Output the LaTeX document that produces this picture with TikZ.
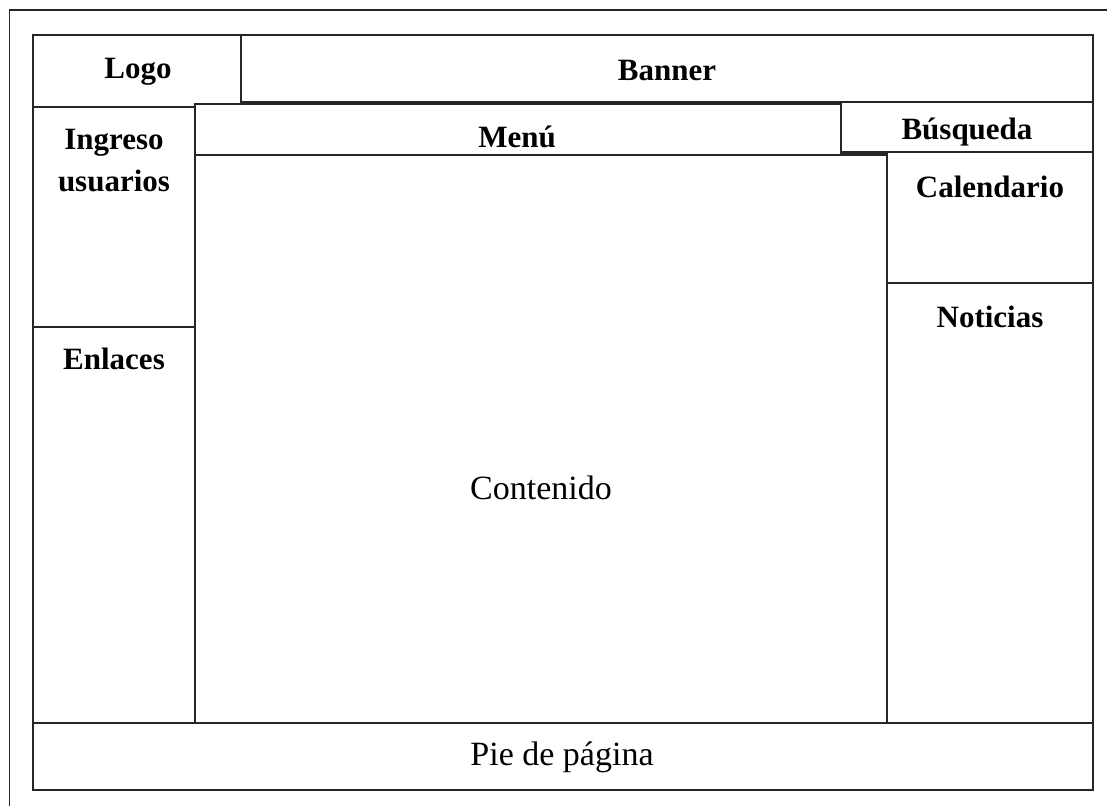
\documentclass[tikz,border=0pt]{standalone}
\usepackage{fontspec}
\setmainfont{Liberation Serif}
\tikzset{
  box/.style={draw=black!85, line width=1.3pt},
  thickline/.style={draw=black!85, line width=2.6pt},
  blab/.style={font=\fontsize{31}{34}\selectfont\bfseries, inner sep=0pt, align=center},
  rlab/.style={font=\fontsize{34}{38}\selectfont, inner sep=0pt},
}
\begin{document}
\begin{tikzpicture}[x=1pt,y=-1pt]
\useasboundingbox (0,0) rectangle (1107,806);
\fill[white] (0,0) rectangle (1107,806);
% outer frame (cropped)
\draw[box] (9.5,806) -- (9.5,10) -- (1107,10);
% regions
\draw[box] (241,35) -- (33,35) -- (33,107) -- (195,107);
\draw[box] (241,35) rectangle (1093,102);
\draw[box] (33,107) rectangle (195,327);
\draw[box] (195,104) rectangle (841,155);
\draw[box] (841,102) rectangle (1093,152);
\draw[box] (887,152) rectangle (1093,283);
\draw[box] (887,283) rectangle (1093,723);
\draw[box] (33,327) rectangle (195,723);
\draw[box] (195,155) rectangle (887,723);
\draw[box] (33,723) rectangle (1093,790);
\draw[thickline] (241,102) -- (841,102);
\draw[thickline] (841,153) -- (887,153);
\draw[thickline] (33,723) -- (1093,723);
% labels
\node[blab] (logo) at (138,72) {Logo};
\node[blab] (banner) at (667,70) {Banner};
\node[blab, font=\fontsize{31}{42}\selectfont\bfseries] (ingreso) at (114,161) {Ingreso\\usuarios};
\node[blab] (menu) at (517,137) {Menú};
\node[blab] (busqueda) at (967,132) {Búsqueda};
\node[blab] (calendario) at (990,187) {Calendario};
\node[blab] (noticias) at (990,317) {Noticias};
\node[blab] (enlaces) at (114,359) {Enlaces};
\node[rlab] (contenido) at (541,488) {Contenido};
\node[rlab] (pie) at (562,757) {Pie de página};
\end{tikzpicture}
\end{document}
